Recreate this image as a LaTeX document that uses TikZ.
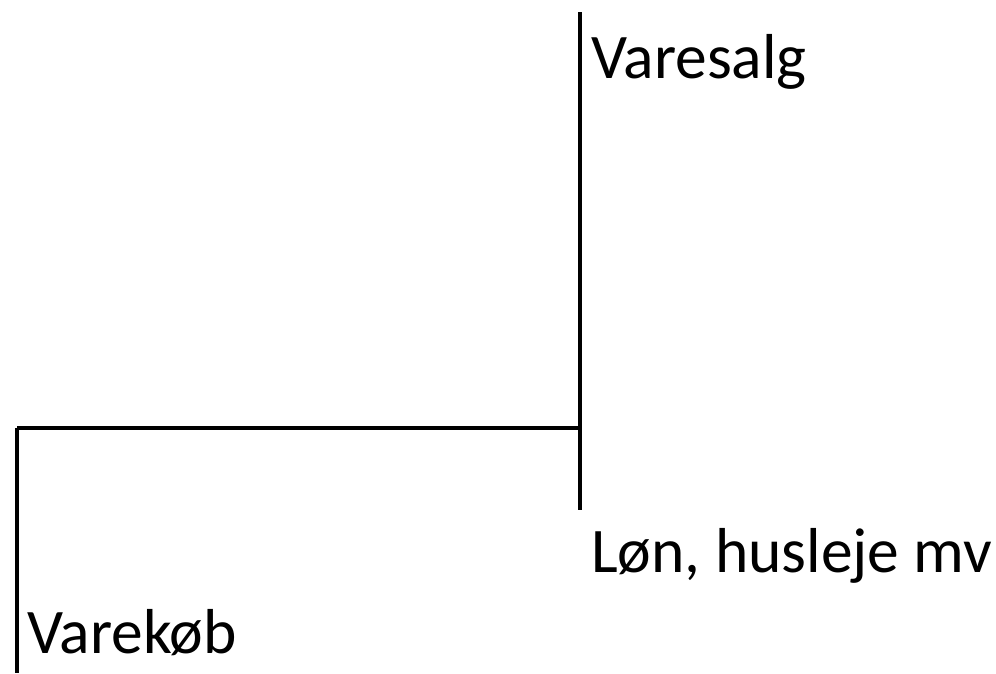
\documentclass[tikz,border=0pt]{standalone}
\usepackage{fontspec}
\setmainfont{Carlito}
\usepackage{tikz}

\begin{document}
\begin{tikzpicture}[x=1pt,y=-1pt,
		konto/.style={anchor=base west,inner sep=0pt,font=\fontsize{63.5}{76}\selectfont},
		streg/.style={line width=3.2pt}]
		\useasboundingbox (0,0) rectangle (996,673);

		% T-konto points
		\coordinate (top) at (580,12);
		\coordinate (mid) at (580,428);
		\coordinate (bund) at (580,510);
		\coordinate (hjorne) at (17,428);
		\coordinate (fod) at (17,673);

		% Lines
		\draw[streg] (top) -- (bund);
		\draw[streg] (hjorne) -- (mid);
		\draw[streg] (hjorne) -- (fod);

		% Labels
		\node[konto] (salg) at (591,78) {Varesalg};
		\node[konto] (lon) at (591,572) {Løn, husleje mv};
		\node[konto] (kob) at (27,653) {Varekøb};
		\end{tikzpicture}
\end{document}
